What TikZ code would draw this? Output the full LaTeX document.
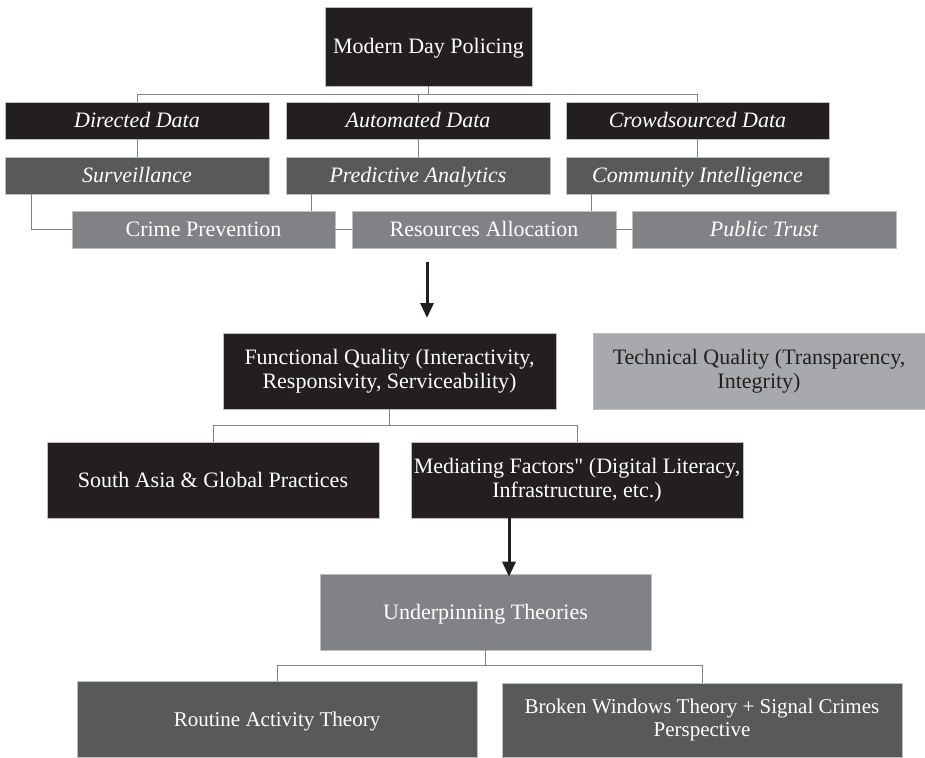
\documentclass[tikz,border=0pt]{standalone}
\usepackage{fontspec}
\setmainfont{Liberation Serif}[Ligatures=TeXOff]
\usetikzlibrary{arrows.meta,calc}
\definecolor{cblack}{HTML}{231F20}
\definecolor{cdark}{HTML}{58595B}
\definecolor{cmid}{HTML}{808285}
\definecolor{clight}{HTML}{A7A9AC}
\definecolor{cline}{HTML}{808285}
\definecolor{cedge}{HTML}{BCBEC0}
\tikzset{
  box/.style={rectangle, inner sep=0pt, draw=cedge, line width=0.6pt, align=center,
    font=\fontsize{22}{24}\selectfont, text=white},
  oneline/.style={text height=16pt, text depth=2pt},
  blackbox/.style={box, fill=cblack},
  darkbox/.style={box, fill=cdark},
  midbox/.style={box, fill=cmid},
  lightbox/.style={box, fill=clight, text=cblack},
  conn/.style={draw=cline, line width=1pt},
  bigarrow/.style={draw=cblack, line width=3pt, -{Triangle[width=13pt,length=15pt]}},
}
\begin{document}
\begin{tikzpicture}[x=1pt,y=-1pt]
\useasboundingbox (0,0) rectangle (925,757);
% row 0
\node[blackbox, oneline, minimum width=207, minimum height=79] (mdp) at (428.5,46.5) {Modern Day Policing};
% row 1
\node[blackbox, oneline, minimum width=264, minimum height=37] (dd) at (137,120.5) {\itshape Directed Data};
\node[blackbox, oneline, minimum width=264, minimum height=37] (ad) at (418,120.5) {\itshape Automated Data};
\node[blackbox, oneline, minimum width=263, minimum height=37] (cd) at (697.5,120.5) {\itshape Crowdsourced Data};
% row 2
\node[darkbox, oneline, minimum width=264, minimum height=37] (sv) at (137,175.5) {\itshape Surveillance};
\node[darkbox, oneline, minimum width=264, minimum height=37] (pa) at (418,175.5) {\itshape Predictive Analytics};
\node[darkbox, oneline, minimum width=263, minimum height=37] (ci) at (697.5,175.5) {\itshape Community Intelligence};
% row 3
\node[midbox, oneline, minimum width=263, minimum height=37] (cp) at (203.5,229.5) {Crime Prevention};
\node[midbox, oneline, minimum width=264, minimum height=37] (ra) at (484,229.5) {Resources Allocation};
\node[midbox, oneline, minimum width=264, minimum height=37] (pt) at (764,229.5) {\itshape Public Trust};
% arrow 1
\coordinate (a1s) at (427,262);
\coordinate (a1e) at (427,318);
% quality row
\node[blackbox, minimum width=333, minimum height=76] (fq) at (389.5,371) {Functional Quality (Interactivity,\\Responsivity, Serviceability)};
\node[lightbox, minimum width=332, minimum height=76] (tq) at (759,371) {Technical Quality (Transparency,\\Integrity)};
% practices row
\node[blackbox, oneline, minimum width=332, minimum height=76] (sa) at (213,480) {South Asia \& Global Practices};
\node[blackbox, minimum width=332, minimum height=76] (mf) at (577,480) {Mediating Factors" (Digital Literacy,\\Infrastructure, etc.)};
% theories
\node[midbox, oneline, minimum width=331, minimum height=76] (ut) at (485.5,612) {Underpinning Theories};
\node[darkbox, oneline, minimum width=400, minimum height=76, font=\fontsize{21}{23}\selectfont] (rat) at (277,719) {Routine Activity Theory};
\node[darkbox, minimum width=400, minimum height=74, font=\fontsize{21}{23}\selectfont] (bw) at (702,720) {Broken Windows Theory + Signal Crimes\\Perspective};
% connectors top
\draw[conn] (mdp.south) -- ++(0,8) coordinate (j0);
\draw[conn] (dd.north) |- (j0) -| (cd.north);
\draw[conn] (ad.north) -- (ad.north |- j0);
\draw[conn] (dd.south) -- (sv.north);
\draw[conn] (ad.south) -- (pa.north);
\draw[conn] (cd.south) -- (ci.north);
\draw[conn] ([xshift=27pt]sv.south west) |- (cp.west);
\draw[conn] ([xshift=26pt]pa.south west) -- ([xshift=26pt]pa.south west |- cp.north);
\draw[conn] ([xshift=26pt]ci.south west) -- ([xshift=26pt]ci.south west |- ra.north);
\draw[conn] (cp.east) -- (ra.west);
\draw[conn] (ra.east) -- (pt.west);
% arrow 1
\draw[bigarrow] (a1s) -- (a1e);
% fq connectors
\draw[conn] (fq.south) -- ++(0,16) coordinate (j1);
\draw[conn] (sa.north) |- (j1) -| (mf.north);
% arrow 2
\draw[bigarrow] ([xshift=-68pt]mf.south) -- ([xshift=-68pt,yshift=-3pt]mf.south |- ut.north);
% ut connectors
\draw[conn] (ut.south) -- ++(0,15) coordinate (j2);
\draw[conn] (rat.north) |- (j2) -| (bw.north);
\end{tikzpicture}
\end{document}
